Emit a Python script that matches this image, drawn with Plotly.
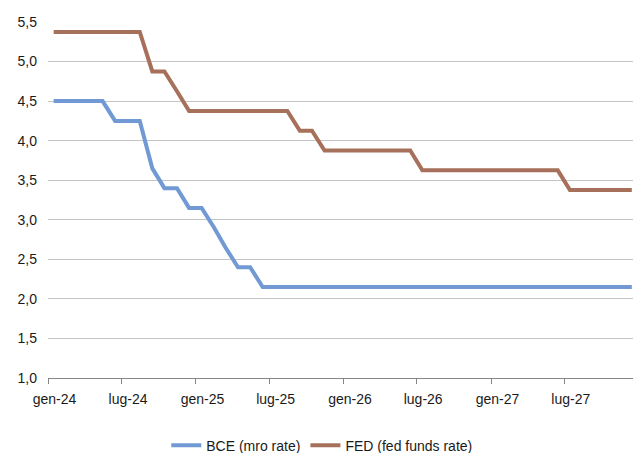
import pandas as pd
import plotly.graph_objects as go

months = pd.date_range("2024-01-01", periods=48, freq="MS") + pd.Timedelta(days=14)

bce = [4.50, 4.50, 4.50, 4.50, 4.50, 4.25, 4.25, 4.25, 3.65, 3.40, 3.40, 3.15,
       3.15, 2.90, 2.65, 2.40, 2.40, 2.15, 2.15, 2.15, 2.15, 2.15, 2.15, 2.15,
       2.15, 2.15, 2.15, 2.15, 2.15, 2.15, 2.15, 2.15, 2.15, 2.15, 2.15, 2.15,
       2.15, 2.15, 2.15, 2.15, 2.15, 2.15, 2.15, 2.15, 2.15, 2.15, 2.15, 2.15]

fed = [5.375, 5.375, 5.375, 5.375, 5.375, 5.375, 5.375, 5.375, 4.875, 4.875, 4.625, 4.375,
       4.375, 4.375, 4.375, 4.375, 4.375, 4.375, 4.375, 4.375, 4.125, 4.125, 3.875, 3.875,
       3.875, 3.875, 3.875, 3.875, 3.875, 3.875, 3.625, 3.625, 3.625, 3.625, 3.625, 3.625,
       3.625, 3.625, 3.625, 3.625, 3.625, 3.625, 3.375, 3.375, 3.375, 3.375, 3.375, 3.375]

# label anchors (labels sit slightly right of the half-year tick marks)
label_dates = ["2024-01-17", "2024-07-17", "2025-01-17", "2025-07-17",
               "2026-01-17", "2026-07-17", "2027-01-17", "2027-07-17"]
tick_labels = ["gen-24", "lug-24", "gen-25", "lug-25", "gen-26", "lug-26", "gen-27", "lug-27"]

y_ticks = [1.0, 1.5, 2.0, 2.5, 3.0, 3.5, 4.0, 4.5, 5.0, 5.5]
y_labels = ["1,0", "1,5", "2,0", "2,5", "3,0", "3,5", "4,0", "4,5", "5,0", "5,5"]

FONT = "Liberation Sans Narrow, Arial Narrow, Liberation Sans, Arial, sans-serif"
TXT = "#1a1a1a"

fig = go.Figure()
fig.add_trace(go.Scatter(x=months, y=bce, mode="lines", name="BCE (mro rate)",
                         line=dict(color="#7199D3", width=4)))
fig.add_trace(go.Scatter(x=months, y=fed, mode="lines", name="FED (fed funds rate)",
                         line=dict(color="#A6705A", width=4)))

fig.update_layout(
    width=633, height=453,
    margin=dict(l=48, r=0, t=22, b=75, autoexpand=False),
    paper_bgcolor="white", plot_bgcolor="white",
    font=dict(family=FONT, size=14, color=TXT),
    showlegend=True,
    legend=dict(orientation="h", x=0.468, xanchor="center", y=-0.19, yanchor="middle",
                font=dict(family=FONT, size=14, color=TXT),
                itemwidth=30, tracegroupgap=0),
    xaxis=dict(type="date", range=["2024-01-01", "2027-12-18"],
               tickvals=label_dates, ticktext=tick_labels, ticks="",
               ticklabelstandoff=8,
               showgrid=False, showline=True, linecolor="#868686", linewidth=1,
               zeroline=False, automargin=False,
               minor=dict(ticks="outside", ticklen=5, tickcolor="#868686",
                          dtick="M6", tick0="2024-01-01", showgrid=False),
               tickfont=dict(family=FONT, size=14, color=TXT)),
    yaxis=dict(range=[1.0, 5.5], tickvals=y_ticks, ticktext=y_labels,
               showgrid=True, gridcolor="#C4C4C4", gridwidth=1,
               showline=False, zeroline=False, ticks="", ticklabelstandoff=10,
               automargin=False,
               tickfont=dict(family=FONT, size=14, color=TXT)),
)

fig.write_html("out.html", config={"displayModeBar": False},
               post_script="document.body.style.margin='0';document.body.style.overflow='hidden';")
